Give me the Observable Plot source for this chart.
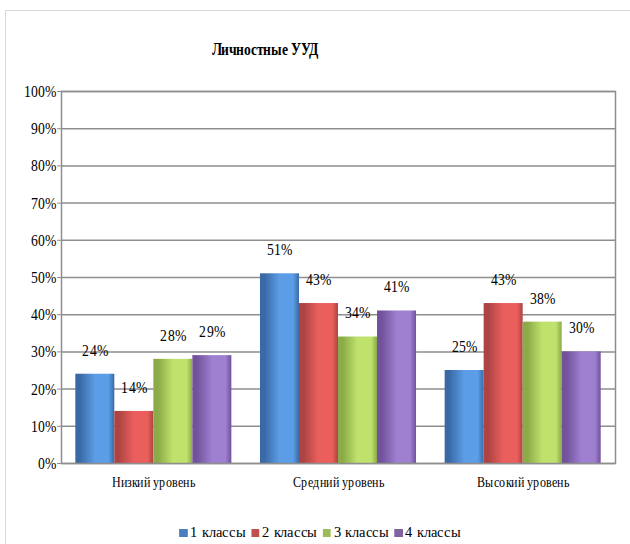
<!DOCTYPE html>
<html>
<head>
<meta charset="utf-8">
<script src="https://cdn.jsdelivr.net/npm/d3@7"></script>
<script src="https://cdn.jsdelivr.net/npm/@observablehq/plot@0.6"></script>
<style>
  @font-face { font-family: "LSerif"; font-weight: 400; src: local("Liberation Serif"), local("LiberationSerif"), local("Liberation Serif Regular"); }
  @font-face { font-family: "LSerif"; font-weight: 700; src: local("Liberation Serif Bold"), local("LiberationSerif-Bold"); }
  html, body { margin: 0; padding: 0; background: #fff; overflow: hidden; }
  #wrap { position: relative; width: 630px; height: 544px; color: #000; }
  #frame { position: absolute; left: 5px; top: 10px; width: 700px; height: 700px; border: 1px solid #d9d9d9; box-sizing: border-box; }
  #title { position: absolute; left: 0; top: 39px; width: 530px; text-align: center; font-weight: bold; font-size: 18px; transform-origin: 265px 50%; }
  #chart { position: absolute; left: 0; top: 80px; }
  #legend { position: absolute; left: 0; top: 524px; width: 640px; display: flex; justify-content: center; gap: 6px; font-size: 15px; transform-origin: 320px 50%; white-space: nowrap; }
  #legend .item { display: flex; align-items: center; }
  #legend .sw { height: 8px; margin-right: 3px; display: inline-block; }
</style>
</head>
<body>
<div id="wrap">
  <div id="frame"></div>
  <div id="title"></div>
  <div id="chart"></div>
  <div id="legend"></div>
</div>
<script>
const title = "Личностные УУД";
const categories = ["Низкий уровень", "Средний уровень", "Высокий уровень"];
const series = ["1 классы", "2 классы", "3 классы", "4 классы"];
const values1 = [24, 51, 25];
const values2 = [14, 43, 43];
const values3 = [28, 34, 38];
const values4 = [29, 41, 30];
const yTicks = [0, 10, 20, 30, 40, 50, 60, 70, 80, 90, 100];
const legendColors = ["#4a7ebf", "#c0504d", "#9bbb59", "#8064a2"];
const gradients = [
  ["#3a6aa6", "#5b9de6"],
  ["#ad4443", "#ea5f5c"],
  ["#8aab48", "#bfe26c"],
  ["#72529c", "#9e7fd0"]
];

const seriesValues = [values1, values2, values3, values4];
const FONT = 'LSerif, "Liberation Serif", Tinos, "Times New Roman", FreeSerif';

function draw() {
  document.getElementById("wrap").style.fontFamily = FONT;
  const ctx = document.createElement("canvas").getContext("2d");
  function fit(str, size, weight, target) {
    ctx.font = `${weight} ${size}px ${FONT}`;
    return Math.min(1, target / ctx.measureText(str).width);
  }
  const sTick = fit("100%", 17, "normal", 33);
  const sCat = fit("Низкий уровень", 14, "normal", 85);
  const sTitle = fit(title, 18, "bold", 107);
  const sLegend = fit("1 классы", 15, "normal", 55);

  const W = 630, H = 420;
  const mL = 61, mR = 15, mT = 11, mB = 37;
  const padIn = 0.155, padOut = 0.0775;
  const band = d3.scaleBand().domain(categories).range([mL, W - mR]).paddingInner(padIn).paddingOuter(padOut);
  const bw = band.bandwidth();
  const barW = bw / series.length;

  const marks = [];
  marks.push(Plot.ruleY(yTicks, {stroke: "#8e8e8e", strokeWidth: 1.5}));
  seriesValues.forEach((vals, i) => {
    const data = categories.map((c, j) => ({level: c, value: vals[j]}));
    marks.push(Plot.barY(data, {
      x: "level", y: "value",
      fill: `url(#grad${i})`,
      insetLeft: i * barW,
      insetRight: (series.length - 1 - i) * barW
    }));
  });
  marks.push(Plot.frame({stroke: "#8e8e8e", strokeWidth: 1.5}));
  seriesValues.forEach((vals, i) => {
    const data = categories.map((c, j) => ({level: c, value: vals[j]}));
    marks.push(Plot.text(data, {
      x: "level", y: "value",
      text: d => d.value + "%",
      dx: (i + 0.5) * barW - bw / 2,
      dy: -24,
      fontSize: 17,
      fill: "#000"
    }));
  });

  const svg = Plot.plot({
    width: W, height: H,
    marginLeft: mL, marginRight: mR, marginTop: mT, marginBottom: mB,
    style: {background: "transparent", color: "#000", overflow: "visible"},
    x: {domain: categories, paddingInner: padIn, paddingOuter: padOut, round: false, label: null, tickSize: 0, tickPadding: 14},
    y: {domain: [0, 100], ticks: yTicks, tickFormat: d => d + "%", label: null, tickSize: 4, tickPadding: 1},
    marks
  });
  svg.style.fontFamily = FONT;
  svg.style.fontSize = "17px";

  const ns = "http://www.w3.org/2000/svg";
  const defs = document.createElementNS(ns, "defs");
  gradients.forEach((g, i) => {
    const lg = document.createElementNS(ns, "linearGradient");
    lg.setAttribute("id", "grad" + i);
    lg.setAttribute("x1", "0"); lg.setAttribute("x2", "1");
    lg.setAttribute("y1", "0"); lg.setAttribute("y2", "0");
    [[0, g[0]], [0.12, g[0]], [0.5, g[1]], [0.85, g[1]], [1, g[0]]].forEach(([o, c]) => {
      const s = document.createElementNS(ns, "stop");
      s.setAttribute("offset", o);
      s.setAttribute("stop-color", c);
      lg.appendChild(s);
    });
    defs.appendChild(lg);
  });
  svg.insertBefore(defs, svg.firstChild);

  svg.querySelectorAll('[aria-label^="y-axis"] line, [aria-label^="y-axis"] path').forEach(el => el.setAttribute("stroke", "#8e8e8e"));

  document.getElementById("chart").appendChild(svg);

  svg.querySelectorAll("text").forEach(t => {
    const inX = !!t.closest('[aria-label^="x-axis"]');
    const s = inX ? sCat : sTick;
    t.style.fontFamily = FONT;
    t.style.fontSize = inX ? "14px" : "17px";
    const x = parseFloat(t.getAttribute("x") || "0");
    const tr = t.getAttribute("transform") || "";
    t.setAttribute("transform", `${tr} translate(${x},0) scale(${s},1) translate(${-x},0)`);
  });

  const titleEl = document.getElementById("title");
  titleEl.textContent = title;
  titleEl.style.transform = `scaleX(${sTitle})`;

  const legend = document.getElementById("legend");
  legend.style.transform = `scaleX(${sLegend})`;
  series.forEach((s, i) => {
    const item = document.createElement("div");
    item.className = "item";
    const sw = document.createElement("span");
    sw.className = "sw";
    sw.style.width = (8 / sLegend) + "px";
    sw.style.background = legendColors[i];
    const tx = document.createElement("span");
    tx.textContent = s;
    item.appendChild(sw);
    item.appendChild(tx);
    legend.appendChild(item);
  });
}

let done = false;
function go() { if (!done) { done = true; draw(); } }
if (document.fonts && document.fonts.load) {
  Promise.all([document.fonts.load('17px LSerif'), document.fonts.load('bold 18px LSerif')]).then(go, go);
  setTimeout(go, 300);
} else {
  go();
}
</script>
</body>
</html>
